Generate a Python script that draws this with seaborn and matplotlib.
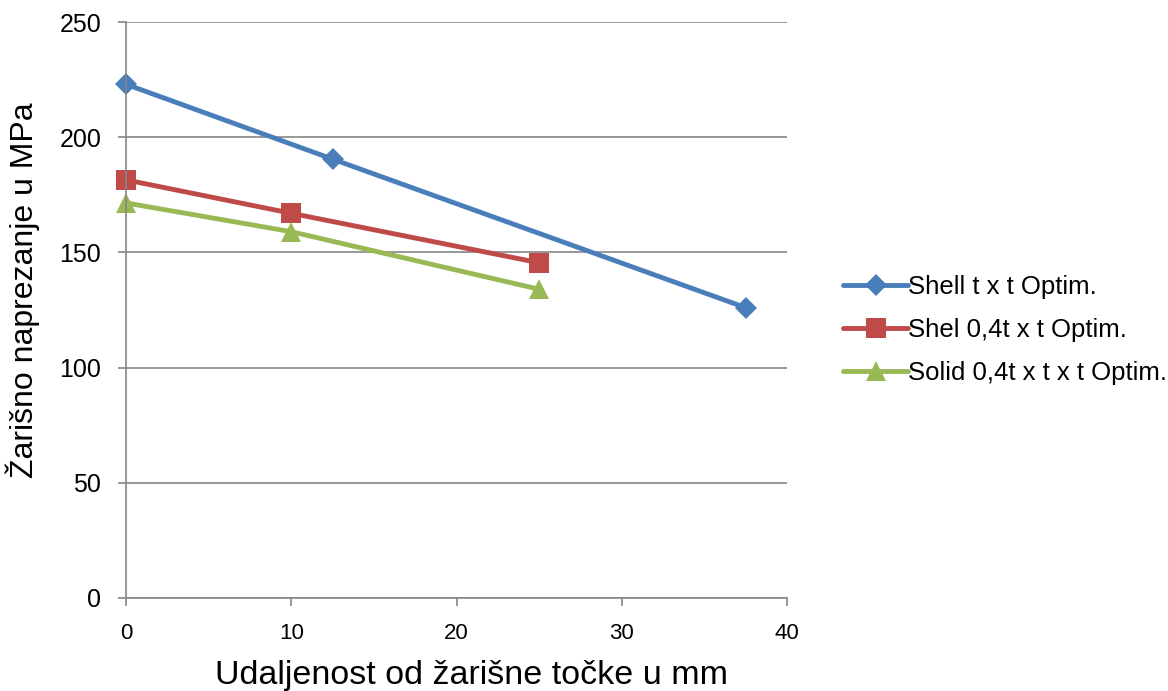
import matplotlib
matplotlib.use("Agg")
import matplotlib.pyplot as plt
import pandas as pd
import seaborn as sns

sns.set_theme(style="white")
plt.rcParams["font.family"] = ["Liberation Sans", "DejaVu Sans"]
plt.rcParams["text.color"] = "black"

series_names = ["Shell t x t Optim.", "Shel 0,4t x t Optim.", "Solid 0,4t x t x t Optim."]
shell_x = [0, 12.5, 37.5]
shell_y = [223, 190.5, 126]
shel04_x = [0, 10, 25]
shel04_y = [181.5, 167, 145.5]
solid_x = [0, 10, 25]
solid_y = [171.5, 159, 134]

colors = ["#4a7ebb", "#be4b48", "#98b954"]
markers = ["D", "s", "^"]
msizes = [11, 14, 14]

rows = []
for name, xs, ys in zip(series_names, [shell_x, shel04_x, solid_x], [shell_y, shel04_y, solid_y]):
    for x, y in zip(xs, ys):
        rows.append({"x": x, "y": y, "serija": name})
df = pd.DataFrame(rows)

fig = plt.figure(figsize=(11.68, 6.91), dpi=100)
ax = fig.add_axes([0.108, 0.1346, 0.566, 0.8334])

for name, c, m, ms in zip(series_names, colors, markers, msizes):
    sns.lineplot(data=df[df["serija"] == name], x="x", y="y", color=c, marker=m,
                 markersize=ms, markeredgewidth=0, linewidth=3.5, label=name,
                 ax=ax, clip_on=False)

ax.set_xlim(0, 40)
ax.set_ylim(0, 250)
ax.set_xticks([0, 10, 20, 30, 40])
ax.set_yticks([0, 50, 100, 150, 200, 250])
ax.yaxis.grid(True, color="#868686", linewidth=1.2)
ax.xaxis.grid(False)
ax.set_axisbelow(True)
for s in ["top", "right"]:
    ax.spines[s].set_visible(False)
for s in ["left", "bottom"]:
    ax.spines[s].set_color("#868686")
    ax.spines[s].set_linewidth(1.2)
ax.tick_params(axis="both", direction="out", length=6, width=1.2, color="#868686",
               labelcolor="black", bottom=True, left=True)
ax.tick_params(axis="y", labelsize=18, pad=12)
ax.tick_params(axis="x", labelsize=16, pad=12)

ax.set_xlabel("Udaljenost od žarišne točke u mm", fontsize=24.5, color="black")
ax.set_ylabel("Žarišno naprezanje u MPa", fontsize=23, color="black")
ax.xaxis.set_label_coords(0.522, -0.108)
ax.yaxis.set_label_coords(-0.13, 0.535)

ax.legend(loc="center left", bbox_to_anchor=(1.05, 0.465), frameon=False,
          fontsize=18.5, handlelength=2.5, handletextpad=0.0, labelspacing=0.75,
          labelcolor="black")

fig.savefig("out.png", dpi=100)
